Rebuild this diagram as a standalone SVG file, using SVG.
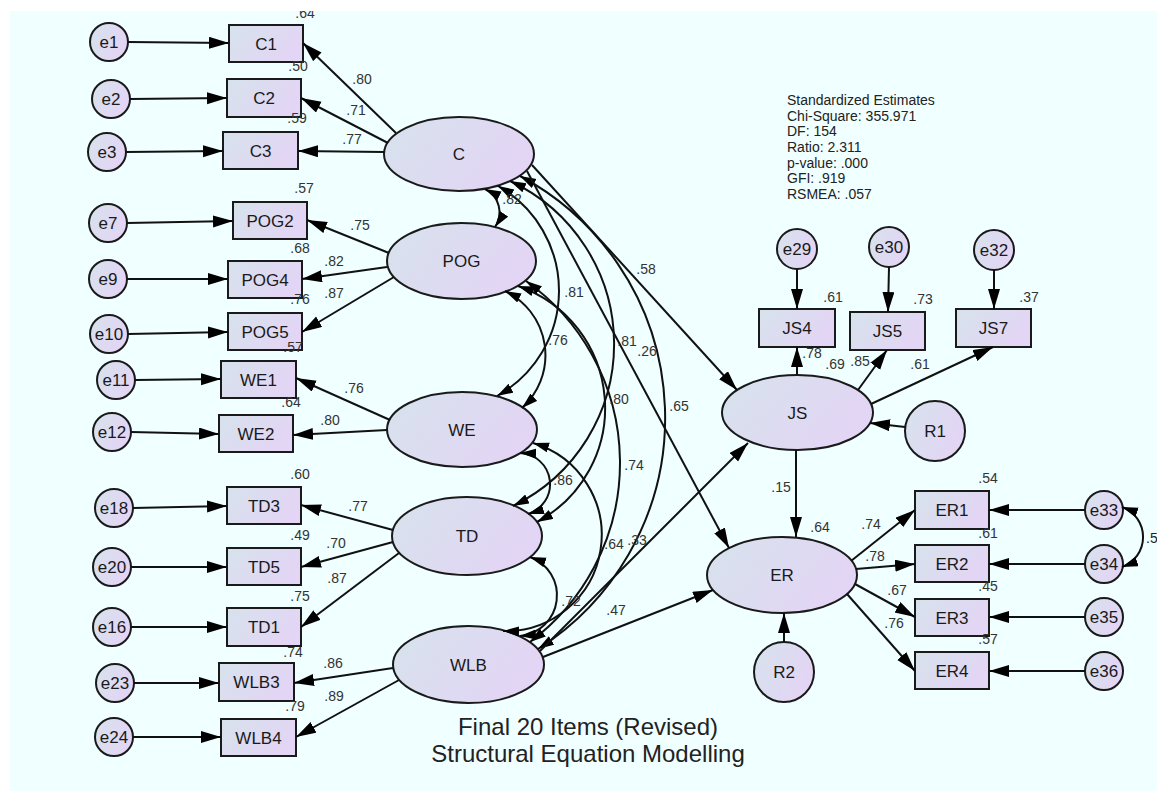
<svg xmlns="http://www.w3.org/2000/svg" width="1157" height="792" viewBox="0 0 1157 792">
<defs>
<linearGradient id="g" x1="0" y1="0" x2="1" y2="0.4">
<stop offset="0" stop-color="#D6E3EC"/>
<stop offset="1" stop-color="#E3D5F5"/>
</linearGradient>
<clipPath id="clip"><rect x="10" y="11" width="1147" height="780"/></clipPath>
<marker id="ah" markerUnits="userSpaceOnUse" markerWidth="22" markerHeight="14" refX="20" refY="6" orient="auto"><path d="M0,0 L20,6 L0,12 z" fill="#000"/></marker>
<marker id="ch" markerUnits="userSpaceOnUse" markerWidth="18" markerHeight="12" refX="16" refY="5" orient="auto-start-reverse"><path d="M0,0 L16,5 L0,10 z" fill="#000"/></marker>
</defs>
<style>
.n{fill:url(#g);stroke:#1a1a1a;stroke-width:2}
.t{font-family:"Liberation Sans",Arial,sans-serif;font-size:17px;fill:#1a1a1a;text-anchor:middle}
.l{font-family:"Liberation Sans",Arial,sans-serif;font-size:14px;fill:#333;text-anchor:middle}
.s{font-family:"Liberation Sans",Arial,sans-serif;font-size:14px;fill:#222}
.h{font-family:"Liberation Sans",Arial,sans-serif;font-size:24px;fill:#222;text-anchor:middle}
.p{fill:none;stroke:#111;stroke-width:2;marker-end:url(#ah)}
.c{fill:none;stroke:#111;stroke-width:2;marker-start:url(#ch);marker-end:url(#ch)}
</style>
<rect width="1157" height="792" fill="#fff"/>
<rect x="10" y="11" width="1147" height="780" fill="#F0FFFF"/>
<g clip-path="url(#clip)">
<g id="nodes">
<g id="e1"><circle class="n" cx="109" cy="42" r="19"/><text class="t" x="109" y="48">e1</text></g>
<g id="e2"><circle class="n" cx="111" cy="99" r="19"/><text class="t" x="111" y="105">e2</text></g>
<g id="e3"><circle class="n" cx="107" cy="152" r="19"/><text class="t" x="107" y="158">e3</text></g>
<g id="e7"><circle class="n" cx="108" cy="223" r="19"/><text class="t" x="108" y="229">e7</text></g>
<g id="e9"><circle class="n" cx="108" cy="279" r="19"/><text class="t" x="108" y="285">e9</text></g>
<g id="e10"><circle class="n" cx="109" cy="334" r="19"/><text class="t" x="109" y="340">e10</text></g>
<g id="e11"><circle class="n" cx="116" cy="380" r="19"/><text class="t" x="116" y="386">e11</text></g>
<g id="e12"><circle class="n" cx="112" cy="432" r="19"/><text class="t" x="112" y="438">e12</text></g>
<g id="e18"><circle class="n" cx="114" cy="508" r="19"/><text class="t" x="114" y="514">e18</text></g>
<g id="e20"><circle class="n" cx="112" cy="567" r="19"/><text class="t" x="112" y="573">e20</text></g>
<g id="e16"><circle class="n" cx="112" cy="627" r="19"/><text class="t" x="112" y="633">e16</text></g>
<g id="e23"><circle class="n" cx="115" cy="683" r="19"/><text class="t" x="115" y="689">e23</text></g>
<g id="e24"><circle class="n" cx="114" cy="737" r="19"/><text class="t" x="114" y="743">e24</text></g>

<g id="C1"><rect class="n" x="229" y="25" width="74" height="37"/><text class="t" x="266" y="49.5">C1</text></g>
<g id="C2"><rect class="n" x="227" y="79" width="74" height="38"/><text class="t" x="264" y="104">C2</text></g>
<g id="C3"><rect class="n" x="223" y="132" width="75" height="37"/><text class="t" x="260.5" y="156.5">C3</text></g>
<g id="POG2"><rect class="n" x="233" y="202" width="74" height="37"/><text class="t" x="270" y="226.5">POG2</text></g>
<g id="POG4"><rect class="n" x="228" y="261" width="74" height="37"/><text class="t" x="265" y="285.5">POG4</text></g>
<g id="POG5"><rect class="n" x="228" y="313" width="74" height="37"/><text class="t" x="265" y="337.5">POG5</text></g>
<g id="WE1"><rect class="n" x="221" y="361" width="75" height="37"/><text class="t" x="258.5" y="385.5">WE1</text></g>
<g id="WE2"><rect class="n" x="219" y="415" width="74" height="37"/><text class="t" x="256" y="439.5">WE2</text></g>
<g id="TD3"><rect class="n" x="227" y="487" width="74" height="37"/><text class="t" x="264" y="511.5">TD3</text></g>
<g id="TD5"><rect class="n" x="227" y="548" width="74" height="37"/><text class="t" x="264" y="572.5">TD5</text></g>
<g id="TD1"><rect class="n" x="227" y="608" width="74" height="38"/><text class="t" x="264" y="633">TD1</text></g>
<g id="WLB3"><rect class="n" x="219" y="663" width="75" height="38"/><text class="t" x="256.5" y="688">WLB3</text></g>
<g id="WLB4"><rect class="n" x="221" y="719" width="75" height="37"/><text class="t" x="258.5" y="743.5">WLB4</text></g>

<g id="C"><ellipse class="n" cx="459" cy="154" rx="75" ry="37"/><text class="t" x="459" y="160">C</text></g>
<g id="POG"><ellipse class="n" cx="461.5" cy="261" rx="74.5" ry="38"/><text class="t" x="461.5" y="267">POG</text></g>
<g id="WE"><ellipse class="n" cx="462" cy="429.5" rx="75" ry="37.5"/><text class="t" x="462" y="435.5">WE</text></g>
<g id="TD"><ellipse class="n" cx="467" cy="536" rx="75" ry="39"/><text class="t" x="467" y="542">TD</text></g>
<g id="WLB"><ellipse class="n" cx="468.5" cy="664.5" rx="75.5" ry="38.5"/><text class="t" x="468.5" y="670.5">WLB</text></g>
<g id="JS"><ellipse class="n" cx="797.5" cy="412.5" rx="75.5" ry="37.5"/><text class="t" x="797.5" y="418.5">JS</text></g>
<g id="ER"><ellipse class="n" cx="782" cy="575" rx="75" ry="38"/><text class="t" x="782" y="581">ER</text></g>

<g id="JS4"><rect class="n" x="759" y="309" width="76" height="38"/><text class="t" x="797" y="334">JS4</text></g>
<g id="JS5"><rect class="n" x="850" y="312" width="75" height="38"/><text class="t" x="887.5" y="337">JS5</text></g>
<g id="JS7"><rect class="n" x="956" y="309" width="75" height="38"/><text class="t" x="993.5" y="334">JS7</text></g>
<g id="ER1"><rect class="n" x="915" y="491" width="74" height="38"/><text class="t" x="952" y="516">ER1</text></g>
<g id="ER2"><rect class="n" x="915" y="545" width="74" height="37"/><text class="t" x="952" y="569.5">ER2</text></g>
<g id="ER3"><rect class="n" x="915" y="599" width="74" height="37"/><text class="t" x="952" y="623.5">ER3</text></g>
<g id="ER4"><rect class="n" x="915" y="652" width="74" height="37"/><text class="t" x="952" y="676.5">ER4</text></g>

<g id="e29"><circle class="n" cx="797" cy="249" r="20"/><text class="t" x="797" y="255">e29</text></g>
<g id="e30"><circle class="n" cx="889" cy="247" r="20"/><text class="t" x="889" y="253">e30</text></g>
<g id="e32"><circle class="n" cx="994" cy="250" r="20"/><text class="t" x="994" y="256">e32</text></g>
<g id="e33"><circle class="n" cx="1104" cy="510" r="19"/><text class="t" x="1104" y="516">e33</text></g>
<g id="e34"><circle class="n" cx="1104" cy="564" r="19"/><text class="t" x="1104" y="570">e34</text></g>
<g id="e35"><circle class="n" cx="1104" cy="617" r="19"/><text class="t" x="1104" y="623">e35</text></g>
<g id="e36"><circle class="n" cx="1104" cy="671" r="19"/><text class="t" x="1104" y="677">e36</text></g>
<g id="R1"><circle class="n" cx="935" cy="431" r="30"/><text class="t" x="935" y="437">R1</text></g>
<g id="R2"><circle class="n" cx="784" cy="672" r="30"/><text class="t" x="784" y="678">R2</text></g>
</g>

<g id="connectors">
<path class="p" d="M128,42 L229,43"/>
<path class="p" d="M130,99 L227,98"/>
<path class="p" d="M126,152 L223,151"/>
<path class="p" d="M127,223 L233,221"/>
<path class="p" d="M127,279 L228,279"/>
<path class="p" d="M128,334 L228,332"/>
<path class="p" d="M135,380 L221,379"/>
<path class="p" d="M131,432 L219,434"/>
<path class="p" d="M133,508 L227,506"/>
<path class="p" d="M131,567 L227,567"/>
<path class="p" d="M131,627 L227,627"/>
<path class="p" d="M134,683 L219,683"/>
<path class="p" d="M133,737 L221,737"/>

<path class="p" d="M396,133 L303,43"/>
<path class="p" d="M388,143 L301,98"/>
<path class="p" d="M384,152 L298,151"/>
<path class="p" d="M389,253 L307,220"/>
<path class="p" d="M387,267 L302,279"/>
<path class="p" d="M394,277 L302,332"/>
<path class="p" d="M390,420 L296,378"/>
<path class="p" d="M387,430 L293,435"/>
<path class="p" d="M393,530 L301,505"/>
<path class="p" d="M393,542 L301,567"/>
<path class="p" d="M399,553 L301,627"/>
<path class="p" d="M393,668 L294,683"/>
<path class="p" d="M399,680 L296,737"/>

<path class="c" d="M485,189 A26,26 0 0 1 495,227"/>
<path class="c" d="M498,186 A120.4,120.4 0 0 1 497,396"/>
<path class="c" d="M510,181 A180,180 0 0 1 513,506"/>
<path class="c" d="M520,176 A273.9,273.9 0 0 1 538,649"/>
<path class="c" d="M505,291 A71.2,71.2 0 0 1 522,408"/>
<path class="c" d="M518,286 A129.2,129.2 0 0 1 537,522"/>
<path class="c" d="M526,281 A223.1,223.1 0 0 1 530,642"/>
<path class="c" d="M520,453 A31.2,31.2 0 0 1 528,514"/>
<path class="c" d="M533,443 A96,96 0 0 1 503,631"/>
<path class="c" d="M530,557 A40.8,40.8 0 0 1 520,636"/>
<path class="c" d="M1122,507 A31.9,31.9 0 0 1 1122,567"/>

<path class="p" d="M532,165 L737,390"/>
<path class="p" d="M527,171 L729,548"/>
<path class="p" d="M540,651 L748,443"/>
<path class="p" d="M543,657 L713,590"/>
<path class="p" d="M796,450 L796,537"/>
<path class="p" d="M905,427 L870,423"/>
<path class="p" d="M784,642 L784,613"/>
<path class="p" d="M797,269 L797,309"/>
<path class="p" d="M889,267 L888,312"/>
<path class="p" d="M994,270 L994,309"/>
<path class="p" d="M797,375 L797,347"/>
<path class="p" d="M858,390 L887,350"/>
<path class="p" d="M871,404 L993,347"/>
<path class="p" d="M851,561 L915,510"/>
<path class="p" d="M856,569 L915,564"/>
<path class="p" d="M855,584 L915,617"/>
<path class="p" d="M847,594 L915,671"/>
<path class="p" d="M1085,510 L989,510"/>
<path class="p" d="M1085,564 L989,564"/>
<path class="p" d="M1085,617 L989,617"/>
<path class="p" d="M1085,671 L989,671"/>
</g>

<g id="labels">
<text class="l" x="305" y="18">.64</text>
<text class="l" x="362" y="84">.80</text>
<text class="l" x="298" y="71">.50</text>
<text class="l" x="356" y="115">.71</text>
<text class="l" x="297" y="123">.59</text>
<text class="l" x="352" y="144">.77</text>
<text class="l" x="304" y="193">.57</text>
<text class="l" x="360" y="230">.75</text>
<text class="l" x="300" y="253">.68</text>
<text class="l" x="334" y="266">.82</text>
<text class="l" x="300" y="304">.76</text>
<text class="l" x="334" y="298">.87</text>
<text class="l" x="293" y="352">.57</text>
<text class="l" x="354" y="393">.76</text>
<text class="l" x="291" y="407">.64</text>
<text class="l" x="330" y="425">.80</text>
<text class="l" x="300" y="479">.60</text>
<text class="l" x="358" y="511">.77</text>
<text class="l" x="300" y="540">.49</text>
<text class="l" x="336" y="548">.70</text>
<text class="l" x="337" y="583">.87</text>
<text class="l" x="300" y="601">.75</text>
<text class="l" x="293" y="657">.74</text>
<text class="l" x="333" y="668">.86</text>
<text class="l" x="334" y="701">.89</text>
<text class="l" x="295" y="711">.79</text>

<text class="l" x="512" y="204">.82</text>
<text class="l" x="574" y="297">.81</text>
<text class="l" x="646" y="274">.58</text>
<text class="l" x="558" y="345">.76</text>
<text class="l" x="627" y="346">.81</text>
<text class="l" x="647" y="356">.26</text>
<text class="l" x="619" y="404">.80</text>
<text class="l" x="679" y="411">.65</text>
<text class="l" x="634" y="470">.74</text>
<text class="l" x="563" y="485">.86</text>
<text class="l" x="614" y="549">.64</text>
<text class="l" x="637" y="545">.33</text>
<text class="l" x="571" y="606">.72</text>
<text class="l" x="616" y="615">.47</text>

<text class="l" x="833" y="302">.61</text>
<text class="l" x="923" y="304">.73</text>
<text class="l" x="1029" y="302">.37</text>
<text class="l" x="812" y="358">.78</text>
<text class="l" x="835" y="369">.69</text>
<text class="l" x="860" y="366">.85</text>
<text class="l" x="920" y="369">.61</text>
<text class="l" x="781" y="492">.15</text>
<text class="l" x="820" y="532">.64</text>
<text class="l" x="871" y="529">.74</text>
<text class="l" x="875" y="561">.78</text>
<text class="l" x="897" y="595">.67</text>
<text class="l" x="894" y="628">.76</text>
<text class="l" x="988" y="483">.54</text>
<text class="l" x="988" y="538">.61</text>
<text class="l" x="988" y="591">.45</text>
<text class="l" x="988" y="644">.57</text>
<text class="s" x="1146" y="543">.5</text>

<text class="s" x="787" y="105">Standardized Estimates</text>
<text class="s" x="787" y="120.7">Chi-Square: 355.971</text>
<text class="s" x="787" y="136.3">DF: 154</text>
<text class="s" x="787" y="152">Ratio: 2.311</text>
<text class="s" x="787" y="167.7">p-value: .000</text>
<text class="s" x="787" y="183.3">GFI: .919</text>
<text class="s" x="787" y="199">RSMEA: .057</text>

<text class="h" x="588" y="735">Final 20 Items (Revised)</text>
<text class="h" x="588" y="762">Structural Equation Modelling</text>
</g>
</g>
</svg>
